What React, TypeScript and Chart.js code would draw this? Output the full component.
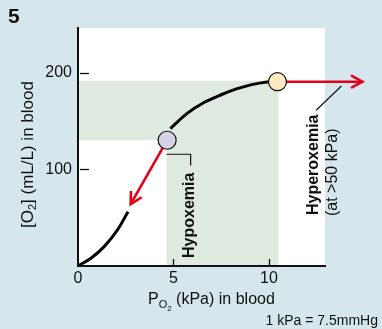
import React, { useEffect, useRef } from "react";
import { Chart, registerables } from "chart.js";

Chart.register(...registerables);

// ---- data ----
const xTicks = [0, 5, 10];
const yTicks = [100, 200];
const xMax = 12.94;
const yMax = 246;

// O2 content curve (kPa -> mL/L), split where the red arrow passes
const curveLowX = [0, 0.68, 1.37, 2.06, 2.62];
const curveLowY = [0, 8, 20, 37, 56];
const curveHighX = [4.84, 5.7, 6.6, 7.5, 8.3, 9.1, 9.9, 10.45];
const curveHighY = [142, 157.5, 169, 177, 183, 187.5, 190.3, 191];

// marker circles: hypoxemia onset, normal arterial
const markerX = [4.67, 10.45];
const markerY = [130, 190.5];
const markerFill = ["#d6d2e8", "#fde9c2"];

// red arrows
const arrowDownX = [4.67, 2.76];
const arrowDownY = [130, 64];
const arrowRightX = [10.45, 14.9];
const arrowRightY = [190.5, 190.5];

// shaded normal range zone (polygon)
const zoneX = [0, 4.64, 4.64, 10.5, 10.5, 0];
const zoneY = [130, 130, 0, 0, 191.6, 191.6];

// leader lines
const hypoLeaderX = [4.64, 5.9, 5.9];
const hypoLeaderY = [115.5, 115.5, 104];
const hyperLeaderX = [12.48, 13.8];
const hyperLeaderY = [161, 186];

const BG = "#d5e6ec";
const ZONE = "#deeadf";
const RED = "#e3001b";
const INK = "#111111";
const FONT = "'Liberation Sans', Arial, Helvetica, sans-serif";

const toXY = (xs: number[], ys: number[]) => xs.map((x, i) => ({ x, y: ys[i] }));

type Seg = { t: string; size: number; dy: number; bold?: boolean };
function drawRich(ctx: CanvasRenderingContext2D, segs: Seg[], x: number, y: number) {
  let cx = x;
  for (const s of segs) {
    ctx.font = `${s.bold ? "bold " : ""}${s.size}px ${FONT}`;
    ctx.fillText(s.t, cx, y + s.dy);
    cx += ctx.measureText(s.t).width;
  }
}

const decorPlugin = {
  id: "decor",
  beforeDraw(chart: any) {
    const { ctx, chartArea: a } = chart;
    const sx = chart.scales.x;
    const sy = chart.scales.y;
    ctx.save();
    ctx.fillStyle = BG;
    ctx.fillRect(0, 0, chart.width, chart.height);
    ctx.fillStyle = "#ffffff";
    ctx.fillRect(a.left, a.top, a.right - a.left, a.bottom - a.top);
    ctx.fillStyle = ZONE;
    ctx.beginPath();
    zoneX.forEach((x, i) => {
      const px = sx.getPixelForValue(x);
      const py = sy.getPixelForValue(zoneY[i]);
      if (i === 0) ctx.moveTo(px, py);
      else ctx.lineTo(px, py);
    });
    ctx.closePath();
    ctx.fill();
    ctx.restore();
  },
  afterDatasetsDraw(chart: any) {
    const { ctx } = chart;
    ctx.save();
    ctx.strokeStyle = RED;
    ctx.lineWidth = 2.6;
    ctx.lineJoin = "miter";
    ctx.lineCap = "butt";
    chart.data.datasets.forEach((ds: any, i: number) => {
      if (!ds.isArrow) return;
      const pts = chart.getDatasetMeta(i).data;
      const p1 = pts[pts.length - 2];
      const p2 = pts[pts.length - 1];
      const ang = Math.atan2(p2.y - p1.y, p2.x - p1.x);
      const L = 13;
      const spread = 0.5;
      ctx.beginPath();
      ctx.moveTo(p2.x - L * Math.cos(ang - spread), p2.y - L * Math.sin(ang - spread));
      ctx.lineTo(p2.x, p2.y);
      ctx.lineTo(p2.x - L * Math.cos(ang + spread), p2.y - L * Math.sin(ang + spread));
      ctx.stroke();
    });
    ctx.restore();
  },
  afterDraw(chart: any) {
    const { ctx, chartArea: a } = chart;
    const sx = chart.scales.x;
    const sy = chart.scales.y;
    ctx.save();
    ctx.strokeStyle = INK;
    ctx.lineWidth = 1.3;
    yTicks.forEach((v) => {
      const py = Math.round(sy.getPixelForValue(v)) + 0.5;
      ctx.beginPath();
      ctx.moveTo(a.left + 2, py);
      ctx.lineTo(a.left + 11, py);
      ctx.stroke();
    });
    xTicks.slice(1).forEach((v) => {
      const px = Math.round(sx.getPixelForValue(v)) + 0.5;
      ctx.beginPath();
      ctx.moveTo(px, a.bottom - 1);
      ctx.lineTo(px, a.bottom - 7);
      ctx.stroke();
    });

    ctx.lineWidth = 1.2;
    ctx.beginPath();
    hypoLeaderX.forEach((x, i) => {
      const px = sx.getPixelForValue(x);
      const py = sy.getPixelForValue(hypoLeaderY[i]);
      if (i === 0) ctx.moveTo(px, py);
      else ctx.lineTo(px, py);
    });
    ctx.stroke();
    ctx.beginPath();
    hyperLeaderX.forEach((x, i) => {
      const px = sx.getPixelForValue(x);
      const py = sy.getPixelForValue(hyperLeaderY[i]);
      if (i === 0) ctx.moveTo(px, py);
      else ctx.lineTo(px, py);
    });
    ctx.stroke();

    ctx.fillStyle = INK;
    ctx.textAlign = "left";
    ctx.textBaseline = "alphabetic";

    ctx.font = `bold 21px ${FONT}`;
    ctx.fillText("5", 8, 23);

    const rot = (x: number, y: number, fn: () => void) => {
      ctx.save();
      ctx.translate(x, y);
      ctx.rotate(-Math.PI / 2);
      fn();
      ctx.restore();
    };
    rot(193.5, 258, () => {
      ctx.font = `bold 16px ${FONT}`;
      ctx.fillText("Hypoxemia", 0, 0);
    });
    rot(318, 215, () => {
      ctx.font = `bold 16px ${FONT}`;
      ctx.fillText("Hyperoxemia", 0, 0);
    });
    rot(337, 216, () => {
      ctx.font = `16px ${FONT}`;
      ctx.fillText("(at >50 kPa)", 0, 0);
    });

    rot(33, 228, () => {
      drawRich(
        ctx,
        [
          { t: "[O", size: 17, dy: 0 },
          { t: "2", size: 11, dy: 3 },
          { t: "] (mL/L) in blood", size: 17, dy: 0 },
        ],
        0,
        0
      );
    });

    drawRich(
      ctx,
      [
        { t: "P", size: 16, dy: 0 },
        { t: "O", size: 11, dy: 4 },
        { t: "2", size: 8, dy: 7 },
        { t: " (kPa) in blood", size: 16, dy: 0 },
      ],
      148,
      304
    );

    ctx.textAlign = "right";
    ctx.font = `14px ${FONT}`;
    ctx.fillText("1 kPa = 7.5mmHg", 378, 325);
    ctx.restore();
  },
};

export default function App() {
  const ref = useRef<HTMLCanvasElement | null>(null);

  useEffect(() => {
    document.body.style.margin = "0";
    document.body.style.background = BG;
    const canvas = ref.current!;
    const chart = new Chart(canvas, {
      type: "line",
      data: {
        datasets: [
          {
            label: "markers",
            data: toXY(markerX, markerY),
            showLine: false,
            pointRadius: 9,
            pointBackgroundColor: markerFill,
            pointBorderColor: INK,
            pointBorderWidth: 1.2,
            order: 0,
          } as any,
          {
            label: "arrowDown",
            data: toXY(arrowDownX, arrowDownY),
            borderColor: RED,
            borderWidth: 2.6,
            pointRadius: 0,
            isArrow: true,
            order: 1,
          } as any,
          {
            label: "arrowRight",
            data: toXY(arrowRightX, arrowRightY),
            borderColor: RED,
            borderWidth: 2.6,
            pointRadius: 0,
            isArrow: true,
            clip: false,
            order: 1,
          } as any,
          {
            label: "curveLow",
            data: toXY(curveLowX, curveLowY),
            borderColor: "#000",
            borderWidth: 3,
            pointRadius: 0,
            cubicInterpolationMode: "monotone",
            order: 2,
          } as any,
          {
            label: "curveHigh",
            data: toXY(curveHighX, curveHighY),
            borderColor: "#000",
            borderWidth: 3,
            pointRadius: 0,
            cubicInterpolationMode: "monotone",
            order: 2,
          } as any,
        ],
      },
      options: {
        responsive: false,
        animation: false,
        events: [],
        layout: { padding: { top: 28, right: 57, left: 0, bottom: 0 } },
        plugins: {
          legend: { display: false },
          tooltip: { enabled: false },
          title: { display: false },
        },
        scales: {
          x: {
            type: "linear",
            min: 0,
            max: xMax,
            afterFit: (s: any) => {
              s.height = 63;
            },
            afterBuildTicks: (s: any) => {
              s.ticks = xTicks.map((v) => ({ value: v }));
            },
            grid: { display: true, drawOnChartArea: false, drawTicks: false },
            border: { display: true, color: INK, width: 2 },
            ticks: {
              padding: 3,
              maxRotation: 0,
              color: INK,
              font: { family: FONT, size: 16 },
            },
          },
          y: {
            type: "linear",
            min: 0,
            max: yMax,
            afterFit: (s: any) => {
              s.width = 78;
            },
            afterBuildTicks: (s: any) => {
              s.ticks = yTicks.map((v) => ({ value: v }));
            },
            grid: { display: true, drawOnChartArea: false, drawTicks: false },
            border: { display: true, color: INK, width: 2 },
            ticks: {
              padding: 6,
              color: INK,
              font: { family: FONT, size: 16 },
            },
          },
        },
      },
      plugins: [decorPlugin as any],
    });
    return () => chart.destroy();
  }, []);

  return (
    <div style={{ width: 382, height: 329, background: BG, position: "relative" }}>
      <canvas ref={ref} width={382} height={329} style={{ display: "block", width: 382, height: 329 }} />
    </div>
  );
}
